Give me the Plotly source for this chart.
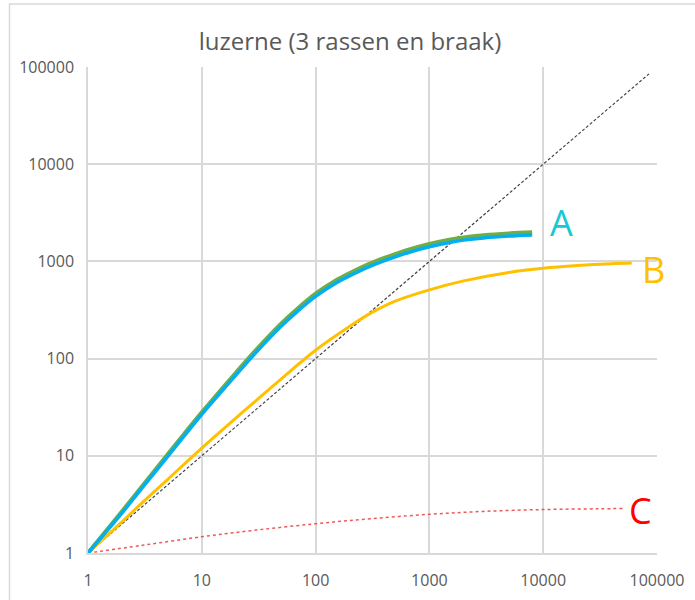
import plotly.graph_objects as go

# Series A (two lines: green and blue)
a_x = [1, 2, 3, 5, 7, 10, 20, 30, 50, 70, 100, 150, 200, 300, 500, 700, 1000, 1500, 2000, 3000, 5000, 8000]
a_green = [1, 2.7, 4.9, 10.3, 16.8, 28, 72, 123, 230, 330, 465, 636, 760, 950, 1190, 1350, 1510, 1670, 1765, 1860, 1940, 1990]
a_blue = [1, 2.6, 4.7, 9.8, 16, 26.7, 68, 116, 216, 310, 437, 597, 713, 890, 1115, 1265, 1415, 1565, 1655, 1745, 1820, 1870]

# Series B (yellow)
b_x = [1, 2, 3, 5, 10, 20, 30, 50, 100, 200, 300, 500, 1000, 2000, 5000, 10000, 20000, 40000, 60000]
b_y = [1, 2.1, 3.3, 5.7, 12, 24.5, 37, 62, 122, 215, 290, 390, 510, 630, 770, 850, 905, 945, 960]

# Series C (red dotted)
c_x = [1, 3, 10, 30, 100, 300, 1000, 3000, 10000, 30000, 50000]
c_y = [1, 1.2, 1.47, 1.72, 2.0, 2.25, 2.5, 2.68, 2.8, 2.85, 2.87]

# Reference diagonal y = x
d_x = [1, 85000]
d_y = [1, 85000]

tick_vals = [1, 10, 100, 1000, 10000, 100000]
tick_text = ["1", "10", "100", "1000", "10000", "100000"]

labels = ["A", "B", "C"]
label_colors = ["#17C8D4", "#FFC000", "#FF0000"]

fig = go.Figure()
fig.add_trace(go.Scatter(x=d_x, y=d_y, mode="lines",
                         line=dict(color="#404040", width=1.2, dash="3px,2px")))
fig.add_trace(go.Scatter(x=c_x, y=c_y, mode="lines", line_shape="spline",
                         line=dict(color="rgba(235,60,60,0.85)", width=1.5, dash="dot")))
fig.add_trace(go.Scatter(x=b_x, y=b_y, mode="lines", line_shape="spline",
                         line=dict(color="#FFC000", width=3)))
fig.add_trace(go.Scatter(x=a_x, y=a_green, mode="lines", line_shape="spline",
                         line=dict(color="#70AD47", width=4)))
fig.add_trace(go.Scatter(x=a_x, y=a_blue, mode="lines", line_shape="spline",
                         line=dict(color="#00B0F0", width=3.5)))

L, R, T, B = 88, 38, 67, 47
W, H = 695, 600
pw, ph = W - L - R, H - T - B

def px(xp):
    return (xp - L) / pw

def py(yp):
    return (H - B - yp) / ph

label_pos = [(561, 222), (653, 269), (640, 510)]
for t, c, (xp, yp) in zip(labels, label_colors, label_pos):
    fig.add_annotation(text=t, x=px(xp), y=py(yp), xref="paper", yref="paper",
                       showarrow=False, font=dict(size=36, color=c, family="Open Sans"),
                       xanchor="center", yanchor="middle")

fig.add_shape(type="rect", xref="paper", yref="paper",
              x0=px(9.5), y0=py(640), x1=px(740), y1=py(4),
              line=dict(color="#D9D9D9", width=1.5), fillcolor="rgba(0,0,0,0)", layer="below")

axis_common = dict(type="log", range=[0, 5], tickvals=tick_vals, ticktext=tick_text,
                   showgrid=True, gridcolor="#D9D9D9", gridwidth=1.5,
                   showline=True, linecolor="#D9D9D9", linewidth=1.5,
                   zeroline=False, ticks="outside", tickcolor="rgba(0,0,0,0)",
                   automargin=False,
                   tickfont=dict(family="Open Sans", size=16, color="#595959"))

fig.update_layout(
    width=W, height=H,
    margin=dict(l=L, r=R, t=T, b=B),
    paper_bgcolor="white", plot_bgcolor="white",
    showlegend=False,
    title=dict(text="luzerne (3 rassen en braak)", x=350 / W, xanchor="center",
               y=1 - 42 / H, yanchor="middle", xref="container", yref="container",
               font=dict(family="Open Sans", size=24, color="#595959")),
    xaxis=dict(**axis_common, ticklen=12),
    yaxis=dict(**axis_common, ticklen=9),
)

fig.write_html("out.html", config={"displayModeBar": False},
               post_script="document.body.style.margin='0';")
